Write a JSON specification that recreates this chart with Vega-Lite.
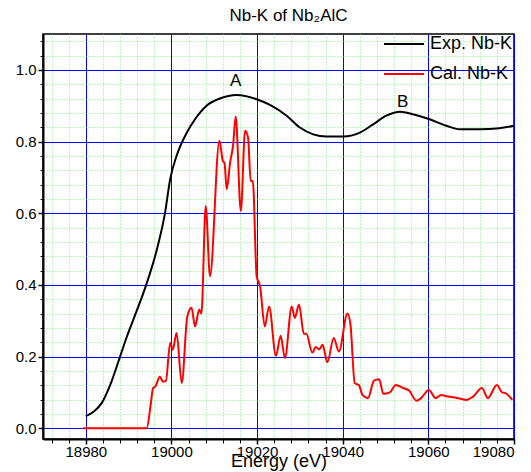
{
  "$schema": "https://vega.github.io/schema/vega-lite/v6.json",
  "autosize": {"type": "none"},
  "padding": {"left": 43, "top": 34, "right": 17, "bottom": 33},
  "width": 471,
  "height": 405,
  "background": "white",
  "config": {
    "font": "Liberation Sans",
    "view": {"stroke": "black", "strokeWidth": 1.5},
    "axis": {"labelFont": "Liberation Sans", "titleFont": "Liberation Sans"}
  },
  "title": {"text": "Nb-K of Nb₂AlC", "fontSize": 17, "fontWeight": "normal", "font": "Liberation Sans", "offset": -2, "dx": 10, "color": "black"},
  "datasets": {
    "curves": [
      {"E": 18980.0, "v": 0.034, "series": "Exp. Nb-K"},
      {"E": 18981.8, "v": 0.046, "series": "Exp. Nb-K"},
      {"E": 18983.7, "v": 0.07, "series": "Exp. Nb-K"},
      {"E": 18985.7, "v": 0.121, "series": "Exp. Nb-K"},
      {"E": 18988.0, "v": 0.2, "series": "Exp. Nb-K"},
      {"E": 18989.6, "v": 0.256, "series": "Exp. Nb-K"},
      {"E": 18991.1, "v": 0.303, "series": "Exp. Nb-K"},
      {"E": 18994.1, "v": 0.4, "series": "Exp. Nb-K"},
      {"E": 18996.6, "v": 0.499, "series": "Exp. Nb-K"},
      {"E": 18998.5, "v": 0.601, "series": "Exp. Nb-K"},
      {"E": 18999.7, "v": 0.695, "series": "Exp. Nb-K"},
      {"E": 19001.2, "v": 0.76, "series": "Exp. Nb-K"},
      {"E": 19003.6, "v": 0.825, "series": "Exp. Nb-K"},
      {"E": 19005.5, "v": 0.862, "series": "Exp. Nb-K"},
      {"E": 19008.2, "v": 0.9, "series": "Exp. Nb-K"},
      {"E": 19011.3, "v": 0.92, "series": "Exp. Nb-K"},
      {"E": 19015.2, "v": 0.93, "series": "Exp. Nb-K"},
      {"E": 19019.9, "v": 0.918, "series": "Exp. Nb-K"},
      {"E": 19023.0, "v": 0.902, "series": "Exp. Nb-K"},
      {"E": 19026.9, "v": 0.872, "series": "Exp. Nb-K"},
      {"E": 19030.0, "v": 0.839, "series": "Exp. Nb-K"},
      {"E": 19033.1, "v": 0.82, "series": "Exp. Nb-K"},
      {"E": 19036.2, "v": 0.814, "series": "Exp. Nb-K"},
      {"E": 19040.1, "v": 0.814, "series": "Exp. Nb-K"},
      {"E": 19044.0, "v": 0.825, "series": "Exp. Nb-K"},
      {"E": 19047.1, "v": 0.848, "series": "Exp. Nb-K"},
      {"E": 19050.2, "v": 0.872, "series": "Exp. Nb-K"},
      {"E": 19053.4, "v": 0.883, "series": "Exp. Nb-K"},
      {"E": 19056.4, "v": 0.876, "series": "Exp. Nb-K"},
      {"E": 19060.3, "v": 0.862, "series": "Exp. Nb-K"},
      {"E": 19064.2, "v": 0.844, "series": "Exp. Nb-K"},
      {"E": 19067.3, "v": 0.834, "series": "Exp. Nb-K"},
      {"E": 19072.0, "v": 0.834, "series": "Exp. Nb-K"},
      {"E": 19076.6, "v": 0.837, "series": "Exp. Nb-K"},
      {"E": 19080.0, "v": 0.844, "series": "Exp. Nb-K"},

      {"E": 18979.3, "v": 0.0, "series": "Cal. Nb-K"},
      {"E": 18994.2, "v": 0.0, "series": "Cal. Nb-K"},
      {"E": 18995.2, "v": 0.07, "series": "Cal. Nb-K"},
      {"E": 18995.7, "v": 0.112, "series": "Cal. Nb-K"},
      {"E": 18996.2, "v": 0.116, "series": "Cal. Nb-K"},
      {"E": 18997.3, "v": 0.144, "series": "Cal. Nb-K"},
      {"E": 18998.0, "v": 0.13, "series": "Cal. Nb-K"},
      {"E": 18998.7, "v": 0.132, "series": "Cal. Nb-K"},
      {"E": 18999.7, "v": 0.238, "series": "Cal. Nb-K"},
      {"E": 19000.3, "v": 0.219, "series": "Cal. Nb-K"},
      {"E": 19001.2, "v": 0.266, "series": "Cal. Nb-K"},
      {"E": 19002.4, "v": 0.126, "series": "Cal. Nb-K"},
      {"E": 19003.7, "v": 0.312, "series": "Cal. Nb-K"},
      {"E": 19004.7, "v": 0.336, "series": "Cal. Nb-K"},
      {"E": 19005.5, "v": 0.284, "series": "Cal. Nb-K"},
      {"E": 19006.5, "v": 0.331, "series": "Cal. Nb-K"},
      {"E": 19007.0, "v": 0.32, "series": "Cal. Nb-K"},
      {"E": 19008.0, "v": 0.62, "series": "Cal. Nb-K"},
      {"E": 19009.0, "v": 0.424, "series": "Cal. Nb-K"},
      {"E": 19011.2, "v": 0.802, "series": "Cal. Nb-K"},
      {"E": 19012.0, "v": 0.746, "series": "Cal. Nb-K"},
      {"E": 19012.4, "v": 0.74, "series": "Cal. Nb-K"},
      {"E": 19012.9, "v": 0.667, "series": "Cal. Nb-K"},
      {"E": 19013.7, "v": 0.741, "series": "Cal. Nb-K"},
      {"E": 19014.4, "v": 0.79, "series": "Cal. Nb-K"},
      {"E": 19015.0, "v": 0.87, "series": "Cal. Nb-K"},
      {"E": 19016.2, "v": 0.606, "series": "Cal. Nb-K"},
      {"E": 19017.2, "v": 0.83, "series": "Cal. Nb-K"},
      {"E": 19017.9, "v": 0.81, "series": "Cal. Nb-K"},
      {"E": 19018.5, "v": 0.69, "series": "Cal. Nb-K"},
      {"E": 19019.0, "v": 0.69, "series": "Cal. Nb-K"},
      {"E": 19019.9, "v": 0.424, "series": "Cal. Nb-K"},
      {"E": 19020.7, "v": 0.396, "series": "Cal. Nb-K"},
      {"E": 19021.8, "v": 0.284, "series": "Cal. Nb-K"},
      {"E": 19022.8, "v": 0.34, "series": "Cal. Nb-K"},
      {"E": 19024.4, "v": 0.202, "series": "Cal. Nb-K"},
      {"E": 19025.5, "v": 0.258, "series": "Cal. Nb-K"},
      {"E": 19026.5, "v": 0.196, "series": "Cal. Nb-K"},
      {"E": 19028.1, "v": 0.34, "series": "Cal. Nb-K"},
      {"E": 19028.8, "v": 0.308, "series": "Cal. Nb-K"},
      {"E": 19029.8, "v": 0.345, "series": "Cal. Nb-K"},
      {"E": 19030.9, "v": 0.264, "series": "Cal. Nb-K"},
      {"E": 19031.5, "v": 0.264, "series": "Cal. Nb-K"},
      {"E": 19032.9, "v": 0.211, "series": "Cal. Nb-K"},
      {"E": 19033.7, "v": 0.227, "series": "Cal. Nb-K"},
      {"E": 19034.5, "v": 0.22, "series": "Cal. Nb-K"},
      {"E": 19035.3, "v": 0.233, "series": "Cal. Nb-K"},
      {"E": 19036.4, "v": 0.184, "series": "Cal. Nb-K"},
      {"E": 19037.9, "v": 0.252, "series": "Cal. Nb-K"},
      {"E": 19039.1, "v": 0.214, "series": "Cal. Nb-K"},
      {"E": 19041.1, "v": 0.32, "series": "Cal. Nb-K"},
      {"E": 19041.8, "v": 0.29, "series": "Cal. Nb-K"},
      {"E": 19042.8, "v": 0.126, "series": "Cal. Nb-K"},
      {"E": 19043.8, "v": 0.12, "series": "Cal. Nb-K"},
      {"E": 19044.6, "v": 0.093, "series": "Cal. Nb-K"},
      {"E": 19045.9, "v": 0.084, "series": "Cal. Nb-K"},
      {"E": 19047.3, "v": 0.133, "series": "Cal. Nb-K"},
      {"E": 19048.5, "v": 0.137, "series": "Cal. Nb-K"},
      {"E": 19049.5, "v": 0.096, "series": "Cal. Nb-K"},
      {"E": 19051.0, "v": 0.1, "series": "Cal. Nb-K"},
      {"E": 19052.4, "v": 0.121, "series": "Cal. Nb-K"},
      {"E": 19054.0, "v": 0.113, "series": "Cal. Nb-K"},
      {"E": 19055.5, "v": 0.105, "series": "Cal. Nb-K"},
      {"E": 19057.2, "v": 0.077, "series": "Cal. Nb-K"},
      {"E": 19058.3, "v": 0.084, "series": "Cal. Nb-K"},
      {"E": 19060.1, "v": 0.107, "series": "Cal. Nb-K"},
      {"E": 19061.7, "v": 0.084, "series": "Cal. Nb-K"},
      {"E": 19063.0, "v": 0.093, "series": "Cal. Nb-K"},
      {"E": 19064.3, "v": 0.089, "series": "Cal. Nb-K"},
      {"E": 19066.2, "v": 0.086, "series": "Cal. Nb-K"},
      {"E": 19068.9, "v": 0.079, "series": "Cal. Nb-K"},
      {"E": 19070.5, "v": 0.089, "series": "Cal. Nb-K"},
      {"E": 19072.5, "v": 0.112, "series": "Cal. Nb-K"},
      {"E": 19073.9, "v": 0.084, "series": "Cal. Nb-K"},
      {"E": 19076.0, "v": 0.121, "series": "Cal. Nb-K"},
      {"E": 19077.2, "v": 0.1, "series": "Cal. Nb-K"},
      {"E": 19078.0, "v": 0.098, "series": "Cal. Nb-K"},
      {"E": 19079.6, "v": 0.079, "series": "Cal. Nb-K"}
    ],
    "labels": [
      {"E": 19015.0, "v": 0.968, "label": "A"},
      {"E": 19054.0, "v": 0.909, "label": "B"}
    ]
  },
  "layer": [
    {
      "data": {"name": "curves"},
      "mark": {"type": "line", "strokeWidth": 2, "interpolate": "monotone"},
      "encoding": {
        "x": {
          "field": "E", "type": "quantitative",
          "scale": {"domain": [18970, 19080], "nice": false, "zero": false},
          "axis": {
            "orient": "bottom",
            "values": [18972, 18976, 18984, 18988, 18992, 18996, 19004, 19008, 19012, 19016, 19024, 19028, 19032, 19036, 19044, 19048, 19052, 19056, 19064, 19068, 19072, 19076],
            "labels": false, "title": null, "domain": false,
            "grid": true, "gridColor": "#80e880", "gridDash": [1, 2], "gridWidth": 1,
            "ticks": true, "tickSize": 4, "tickColor": "black", "tickWidth": 1
          }
        },
        "y": {
          "field": "v", "type": "quantitative",
          "scale": {"domain": [-0.03, 1.1], "nice": false, "zero": false},
          "axis": {
            "orient": "left",
            "values": [0.04, 0.08, 0.12, 0.16, 0.24, 0.28, 0.32, 0.36, 0.44, 0.48, 0.52, 0.56, 0.64, 0.68, 0.72, 0.76, 0.84, 0.88, 0.92, 0.96, 1.04, 1.08],
            "labels": false, "title": null, "domain": false,
            "grid": true, "gridColor": "#80e880", "gridDash": [1, 2], "gridWidth": 1,
            "ticks": true, "tickSize": 3, "tickColor": "black", "tickWidth": 1
          }
        },
        "color": {
          "field": "series", "type": "nominal",
          "scale": {"domain": ["Exp. Nb-K", "Cal. Nb-K"], "range": ["black", "#ff0000"]},
          "legend": {
            "title": null, "orient": "none", "legendX": 340, "legendY": -11, "padding": 0,
            "symbolType": "stroke", "symbolSize": 1600, "symbolStrokeWidth": 2,
            "labelFontSize": 18, "labelFont": "Liberation Sans", "labelColor": "black",
            "rowPadding": -19, "labelOffset": 5
          }
        },
        "detail": {"field": "series"}
      }
    },
    {
      "data": {"name": "labels"},
      "mark": {"type": "text", "fontSize": 17, "font": "Liberation Sans", "color": "black"},
      "encoding": {
        "x": {
          "field": "E", "type": "quantitative",
          "scale": {"domain": [18970, 19080], "nice": false, "zero": false},
          "axis": {
            "orient": "bottom",
            "values": [18980, 19000, 19020, 19040, 19060, 19080],
            "format": "d",
            "title": "Energy (eV)", "titleFontSize": 18, "titleFontWeight": "normal", "titleColor": "black", "titlePadding": -7,
            "labelFontSize": 15, "labelColor": "black", "labelPadding": 0,
            "domain": true, "domainColor": "black", "domainWidth": 2,
            "grid": true, "gridColor": "#0000ff", "gridWidth": 1,
            "ticks": true, "tickSize": 5, "tickColor": "black", "tickWidth": 1.5
          }
        },
        "y": {
          "field": "v", "type": "quantitative",
          "scale": {"domain": [-0.03, 1.1], "nice": false, "zero": false},
          "axis": {
            "orient": "left",
            "values": [0, 0.2, 0.4, 0.6, 0.8, 1.0],
            "format": ".1f",
            "title": null,
            "labelFontSize": 15, "labelColor": "black", "labelPadding": 2,
            "domain": true, "domainColor": "black", "domainWidth": 2,
            "grid": true, "gridColor": "#0000ff", "gridWidth": 1,
            "ticks": true, "tickSize": 5, "tickColor": "black", "tickWidth": 1.5
          }
        },
        "text": {"field": "label"}
      }
    }
  ],
  "resolve": {"axis": {"x": "independent", "y": "independent"}}
}
